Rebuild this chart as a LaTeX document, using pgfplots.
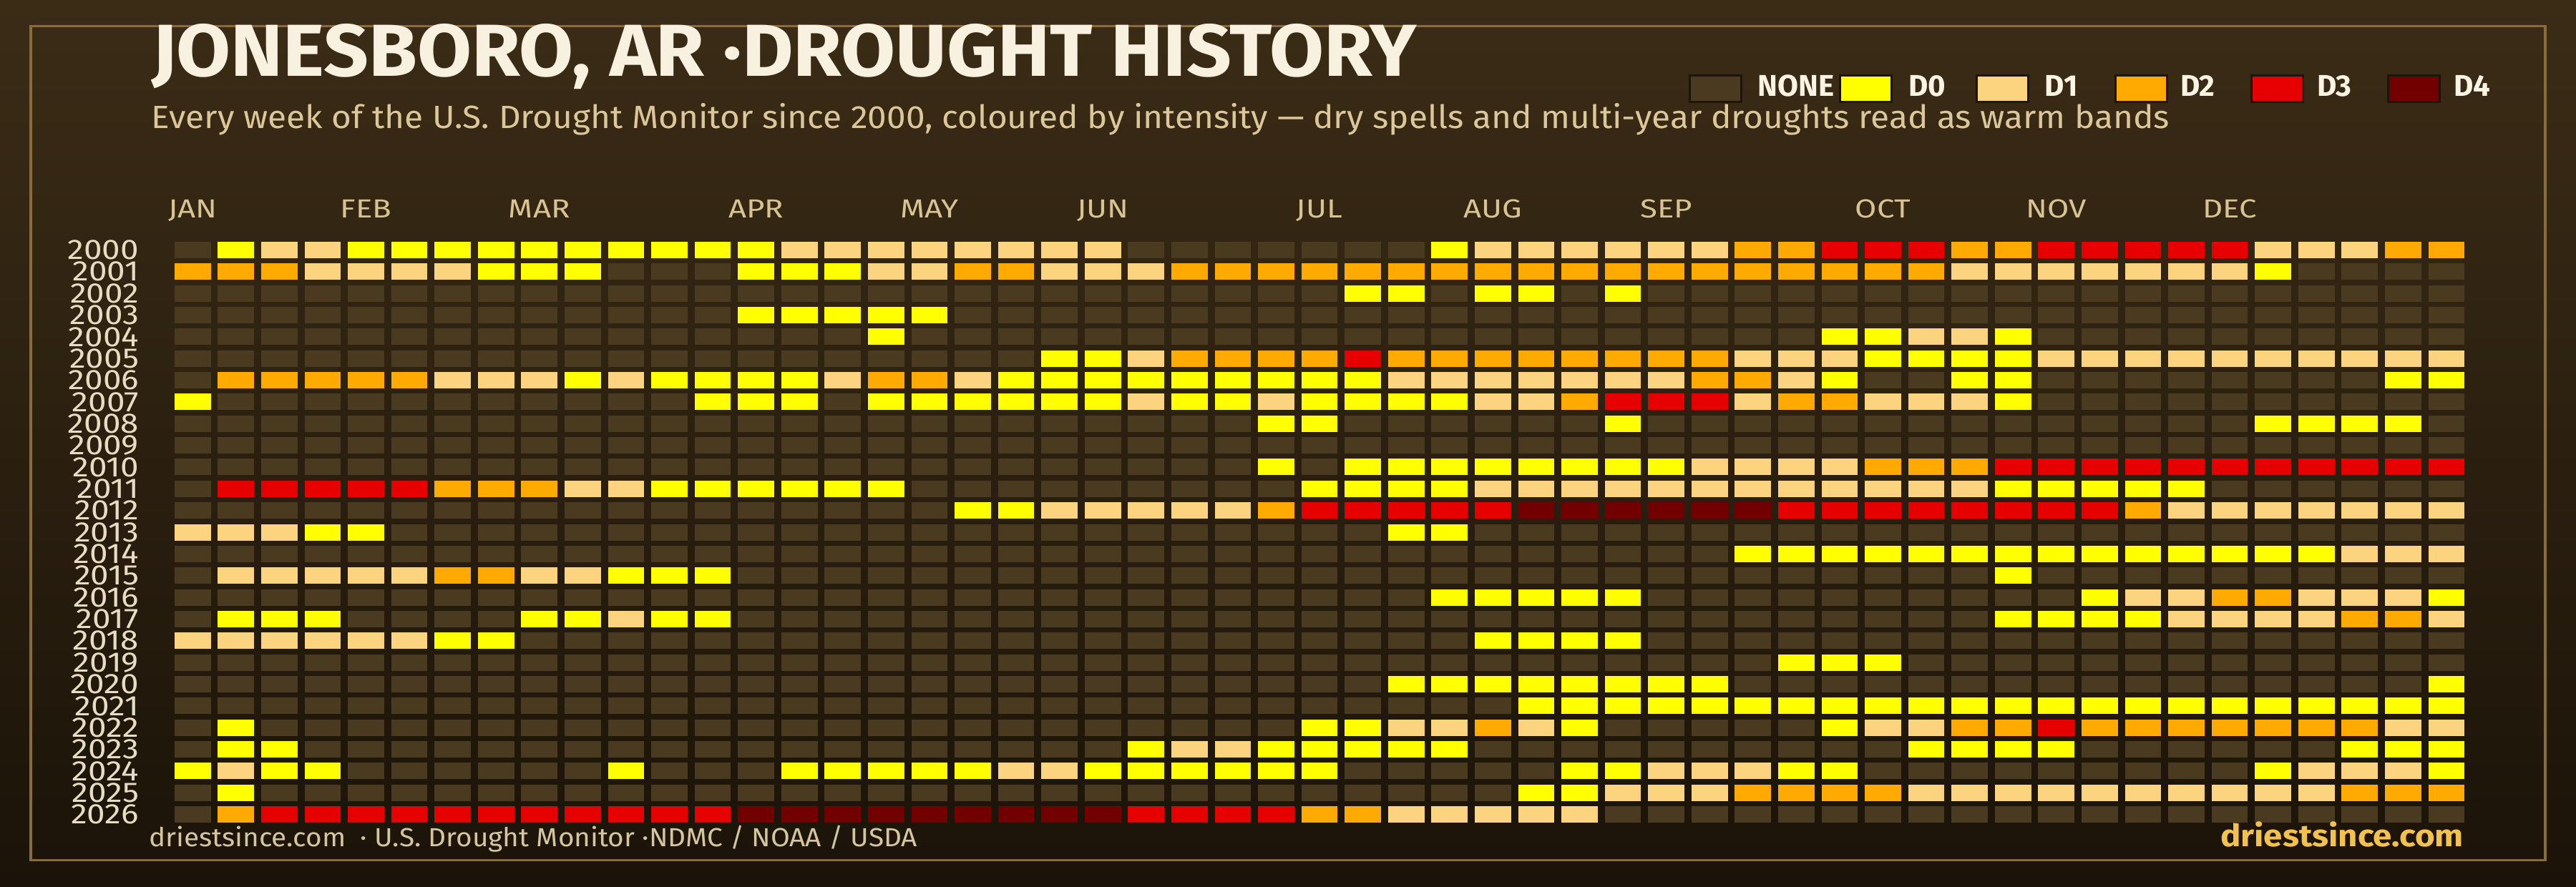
\documentclass[border=0pt]{standalone}
\usepackage{fontspec}
\setmainfont{Fira Sans}
\usepackage{graphicx}
\usepackage{pgfplots}
\usepackage{pgfplotstable}
\pgfplotsset{compat=1.18}
\definecolor{bgtop}{HTML}{3B2C16}
\definecolor{bgbot}{HTML}{1B1309}
\definecolor{framec}{HTML}{8A6C36}
\definecolor{cnone}{HTML}{4A3A20}
\definecolor{cd0}{HTML}{FFFF00}
\definecolor{cd1}{HTML}{FCD37F}
\definecolor{cd2}{HTML}{FFAA00}
\definecolor{cd3}{HTML}{E60000}
\definecolor{cd4}{HTML}{730000}
\definecolor{titlec}{HTML}{F8F1E0}
\definecolor{subc}{HTML}{DCC79B}
\definecolor{monthc}{HTML}{D8C393}
\definecolor{yearc}{HTML}{E8DCC2}
\definecolor{legc}{HTML}{FBF4E4}
\definecolor{footc}{HTML}{D6C6A0}
\definecolor{goldc}{HTML}{F2C14E}
\definecolor{swb}{HTML}{1E150A}

\pgfdeclareplotmark{cell}{\pgfpathrectangle{\pgfpoint{-5.08pt}{-2.3pt}}{\pgfpoint{10.16pt}{4.6pt}}\pgfusepathqfill}
\newcommand\ml[1]{\scalebox{1.2}[1]{#1}}
\newcommand\yl[1]{\scalebox{1.16}[1]{#1}}

% 0 = none, 1 = D0, 2 = D1, 3 = D2, 4 = D3, 5 = D4 ; one column per week
\pgfplotstableread{
year w0 w1 w2 w3 w4 w5 w6 w7 w8 w9 w10 w11 w12 w13 w14 w15 w16 w17 w18 w19 w20 w21 w22 w23 w24 w25 w26 w27 w28 w29 w30 w31 w32 w33 w34 w35 w36 w37 w38 w39 w40 w41 w42 w43 w44 w45 w46 w47 w48 w49 w50 w51 w52
2000  0 1 2 2 1 1 1 1 1 1 1 1 1  1 2 2 2 2 2 2 2 2 0 0 0 0 0  0 0 1 2 2 2 2 2 2 3 3 4 4  4 3 3 4 4 4 4 4 2 2 2 3 3
2001  3 3 3 2 2 2 2 1 1 1 0 0 0  1 1 1 2 2 3 3 2 2 2 3 3 3 3  3 3 3 3 3 3 3 3 3 3 3 3 3  3 2 2 2 2 2 2 2 1 0 0 0 0
2002  0 0 0 0 0 0 0 0 0 0 0 0 0  0 0 0 0 0 0 0 0 0 0 0 0 0 0  1 1 0 1 1 0 1 0 0 0 0 0 0  0 0 0 0 0 0 0 0 0 0 0 0 0
2003  0 0 0 0 0 0 0 0 0 0 0 0 0  1 1 1 1 1 0 0 0 0 0 0 0 0 0  0 0 0 0 0 0 0 0 0 0 0 0 0  0 0 0 0 0 0 0 0 0 0 0 0 0
2004  0 0 0 0 0 0 0 0 0 0 0 0 0  0 0 0 1 0 0 0 0 0 0 0 0 0 0  0 0 0 0 0 0 0 0 0 0 0 1 1  2 2 1 0 0 0 0 0 0 0 0 0 0
2005  0 0 0 0 0 0 0 0 0 0 0 0 0  0 0 0 0 0 0 0 1 1 2 3 3 3 3  4 3 3 3 3 3 3 3 3 2 2 2 1  1 1 1 2 2 2 2 2 2 2 2 2 2
2006  0 3 3 3 3 3 2 2 2 1 2 1 1  1 1 2 3 3 2 1 1 1 1 1 1 1 1  1 2 2 2 2 2 2 2 3 3 2 1 0  0 1 1 0 0 0 0 0 0 0 0 1 1
2007  1 0 0 0 0 0 0 0 0 0 0 0 1  1 1 0 1 1 1 1 1 1 2 1 1 2 1  1 1 1 2 2 3 4 4 4 2 3 3 2  2 2 1 0 0 0 0 0 0 0 0 0 0
2008  0 0 0 0 0 0 0 0 0 0 0 0 0  0 0 0 0 0 0 0 0 0 0 0 0 1 1  0 0 0 0 0 0 1 0 0 0 0 0 0  0 0 0 0 0 0 0 0 1 1 1 1 0
2009  0 0 0 0 0 0 0 0 0 0 0 0 0  0 0 0 0 0 0 0 0 0 0 0 0 0 0  0 0 0 0 0 0 0 0 0 0 0 0 0  0 0 0 0 0 0 0 0 0 0 0 0 0
2010  0 0 0 0 0 0 0 0 0 0 0 0 0  0 0 0 0 0 0 0 0 0 0 0 0 1 0  1 1 1 1 1 1 1 1 2 2 2 2 3  3 3 4 4 4 4 4 4 4 4 4 4 4
2011  0 4 4 4 4 4 3 3 3 2 2 1 1  1 1 1 1 0 0 0 0 0 0 0 0 0 1  1 1 1 2 2 2 2 2 2 2 2 2 2  2 2 1 1 1 1 1 0 0 0 0 0 0
2012  0 0 0 0 0 0 0 0 0 0 0 0 0  0 0 0 0 0 1 1 2 2 2 2 2 3 4  4 4 4 4 5 5 5 5 5 5 4 4 4  4 4 4 4 4 3 2 2 2 2 2 2 2
2013  2 2 2 1 1 0 0 0 0 0 0 0 0  0 0 0 0 0 0 0 0 0 0 0 0 0 0  0 1 1 0 0 0 0 0 0 0 0 0 0  0 0 0 0 0 0 0 0 0 0 0 0 0
2014  0 0 0 0 0 0 0 0 0 0 0 0 0  0 0 0 0 0 0 0 0 0 0 0 0 0 0  0 0 0 0 0 0 0 0 0 1 1 1 1  1 1 1 1 1 1 1 1 1 1 2 2 2
2015  0 2 2 2 2 2 3 3 2 2 1 1 1  0 0 0 0 0 0 0 0 0 0 0 0 0 0  0 0 0 0 0 0 0 0 0 0 0 0 0  0 0 1 0 0 0 0 0 0 0 0 0 0
2016  0 0 0 0 0 0 0 0 0 0 0 0 0  0 0 0 0 0 0 0 0 0 0 0 0 0 0  0 0 1 1 1 1 1 0 0 0 0 0 0  0 0 0 0 1 2 2 3 3 2 2 2 1
2017  0 1 1 1 0 0 0 0 1 1 2 1 1  0 0 0 0 0 0 0 0 0 0 0 0 0 0  0 0 0 0 0 0 0 0 0 0 0 0 0  0 0 1 1 1 1 2 2 2 2 3 3 2
2018  2 2 2 2 2 2 1 1 0 0 0 0 0  0 0 0 0 0 0 0 0 0 0 0 0 0 0  0 0 0 1 1 1 1 0 0 0 0 0 0  0 0 0 0 0 0 0 0 0 0 0 0 0
2019  0 0 0 0 0 0 0 0 0 0 0 0 0  0 0 0 0 0 0 0 0 0 0 0 0 0 0  0 0 0 0 0 0 0 0 0 0 1 1 1  0 0 0 0 0 0 0 0 0 0 0 0 0
2020  0 0 0 0 0 0 0 0 0 0 0 0 0  0 0 0 0 0 0 0 0 0 0 0 0 0 0  0 1 1 1 1 1 1 1 1 0 0 0 0  0 0 0 0 0 0 0 0 0 0 0 0 1
2021  0 0 0 0 0 0 0 0 0 0 0 0 0  0 0 0 0 0 0 0 0 0 0 0 0 0 0  0 0 0 0 1 1 1 1 1 1 1 1 1  1 1 1 1 1 1 1 1 1 1 1 1 1
2022  0 1 0 0 0 0 0 0 0 0 0 0 0  0 0 0 0 0 0 0 0 0 0 0 0 0 1  1 2 2 3 2 1 0 0 0 0 0 1 2  2 3 3 4 3 3 3 3 3 3 3 2 2
2023  0 1 1 0 0 0 0 0 0 0 0 0 0  0 0 0 0 0 0 0 0 0 1 2 2 1 1  1 1 1 0 0 0 0 0 0 0 0 0 0  1 1 1 1 0 0 0 0 0 0 1 1 1
2024  1 2 1 1 0 0 0 0 0 0 1 0 0  0 1 1 1 1 1 2 2 1 1 1 1 1 1  0 0 0 0 0 1 1 2 2 2 1 1 0  0 0 0 0 0 0 0 0 1 2 2 2 1
2025  0 1 0 0 0 0 0 0 0 0 0 0 0  0 0 0 0 0 0 0 0 0 0 0 0 0 0  0 0 0 0 1 1 2 2 2 3 3 3 3  2 2 2 2 2 2 2 2 2 2 3 3 3
2026  0 3 4 4 4 4 4 4 4 4 4 4 4  5 5 5 5 5 5 5 5 5 4 4 4 4 3  3 2 2 2 2 2 0 0 0 0 0 0 0  0 0 0 0 0 0 0 0 0 0 0 0 0
}\drought

\pgfplotsset{cellplot/.style={scatter, only marks, mark=cell,
  scatter src=explicit symbolic,
  scatter/classes={0={mark=cell,cnone},1={mark=cell,cd0},2={mark=cell,cd1},
                    3={mark=cell,cd2},4={mark=cell,cd3},5={mark=cell,cd4}}}}

\begin{document}
\begin{tikzpicture}
\useasboundingbox (0,0) rectangle (720pt,248pt);
\shade[top color=bgtop, bottom color=bgbot] (0,0) rectangle (720pt,248pt);
\draw[framec, line width=0.7pt] (8.6pt,7.5pt) rectangle (711.4pt,240.66pt);

\begin{axis}[
  at={(47.78pt,17.24pt)}, anchor=south west,
  scale only axis, width=642.06pt, height=163.9pt,
  xmin=-0.5, xmax=52.5, ymin=1999.5, ymax=2026.5, y dir=reverse,
  axis line style={draw=none}, major tick length=0pt,
  xtick={0,4,8,13,17,21,26,30,34,39,43,47},
  xticklabels={\ml{JAN},\ml{FEB},\ml{MAR},\ml{APR},\ml{MAY},\ml{JUN},\ml{JUL},\ml{AUG},\ml{SEP},\ml{OCT},\ml{NOV},\ml{DEC}},
  xticklabel pos=upper,
  xticklabel style={anchor=base, inner sep=0pt, yshift=5.96pt,
    font=\fontsize{7.3pt}{7.3pt}\selectfont, text=monthc},
  ytick={2000,2001,2002,2003,2004,2005,2006,2007,2008,2009,2010,2011,2012,2013,2014,2015,2016,2017,2018,2019,2020,2021,2022,2023,2024,2025,2026},
  yticklabels={\yl{2000},\yl{2001},\yl{2002},\yl{2003},\yl{2004},\yl{2005},\yl{2006},\yl{2007},\yl{2008},\yl{2009},\yl{2010},\yl{2011},\yl{2012},\yl{2013},\yl{2014},\yl{2015},\yl{2016},\yl{2017},\yl{2018},\yl{2019},\yl{2020},\yl{2021},\yl{2022},\yl{2023},\yl{2024},\yl{2025},\yl{2026}},
  yticklabel style={anchor=east, inner sep=0pt, xshift=-8.78pt,
    font=\fontsize{7.9pt}{7.9pt}\selectfont, text=yearc},
  clip=false,
]
\pgfplotsinvokeforeach{0,...,52}{
  \addplot[cellplot] table[x expr=#1, y=year, meta=w#1]{\drought};
}
\end{axis}

% title and subtitle
\node[anchor=base west, inner sep=0pt, text=titlec] at (42.2pt,226.6pt)
  {\resizebox{353.6pt}{\height}{\fontsize{20.6pt}{20.6pt}\bfseries JONESBORO, AR ·DROUGHT HISTORY}};
\node[anchor=base west, inner sep=0pt, text=subc] at (42.2pt,212.14pt)
  {\resizebox{564pt}{\height}{\fontsize{9pt}{9pt}\selectfont Every week of the U.S. Drought Monitor since 2000, coloured by intensity — dry spells and multi-year droughts read as warm bands}};

% legend
\foreach \c/\t/\sx/\tx in {cnone/NONE/472.0/491.1, cd0/D0/514.0/533.2, cd1/D1/552.2/571.3, cd2/D2/591.0/609.3, cd3/D3/629.0/647.4, cd4/D4/667.2/685.6}{
  \filldraw[fill=\c, draw=swb, line width=0.6pt] (\sx pt+0.3pt,219.5pt) rectangle ++(14.3pt,7.4pt);
  \node[anchor=base west, inner sep=0pt, text=legc, font=\fontsize{8.4pt}{8.4pt}\bfseries] at (\tx pt,221.1pt) {\t};
}

% footer
\node[anchor=base west, inner sep=0pt, text=footc] at (41.4pt,11.2pt)
  {\resizebox{214.8pt}{\height}{\fontsize{7.3pt}{7.3pt}\selectfont driestsince.com\ \ · U.S. Drought Monitor ·NDMC / NOAA / USDA}};
\node[anchor=base east, inner sep=0pt, text=goldc] at (688.8pt,11.2pt)
  {\resizebox{68pt}{\height}{\fontsize{8.6pt}{8.6pt}\bfseries driestsince.com}};
\end{tikzpicture}
\end{document}
